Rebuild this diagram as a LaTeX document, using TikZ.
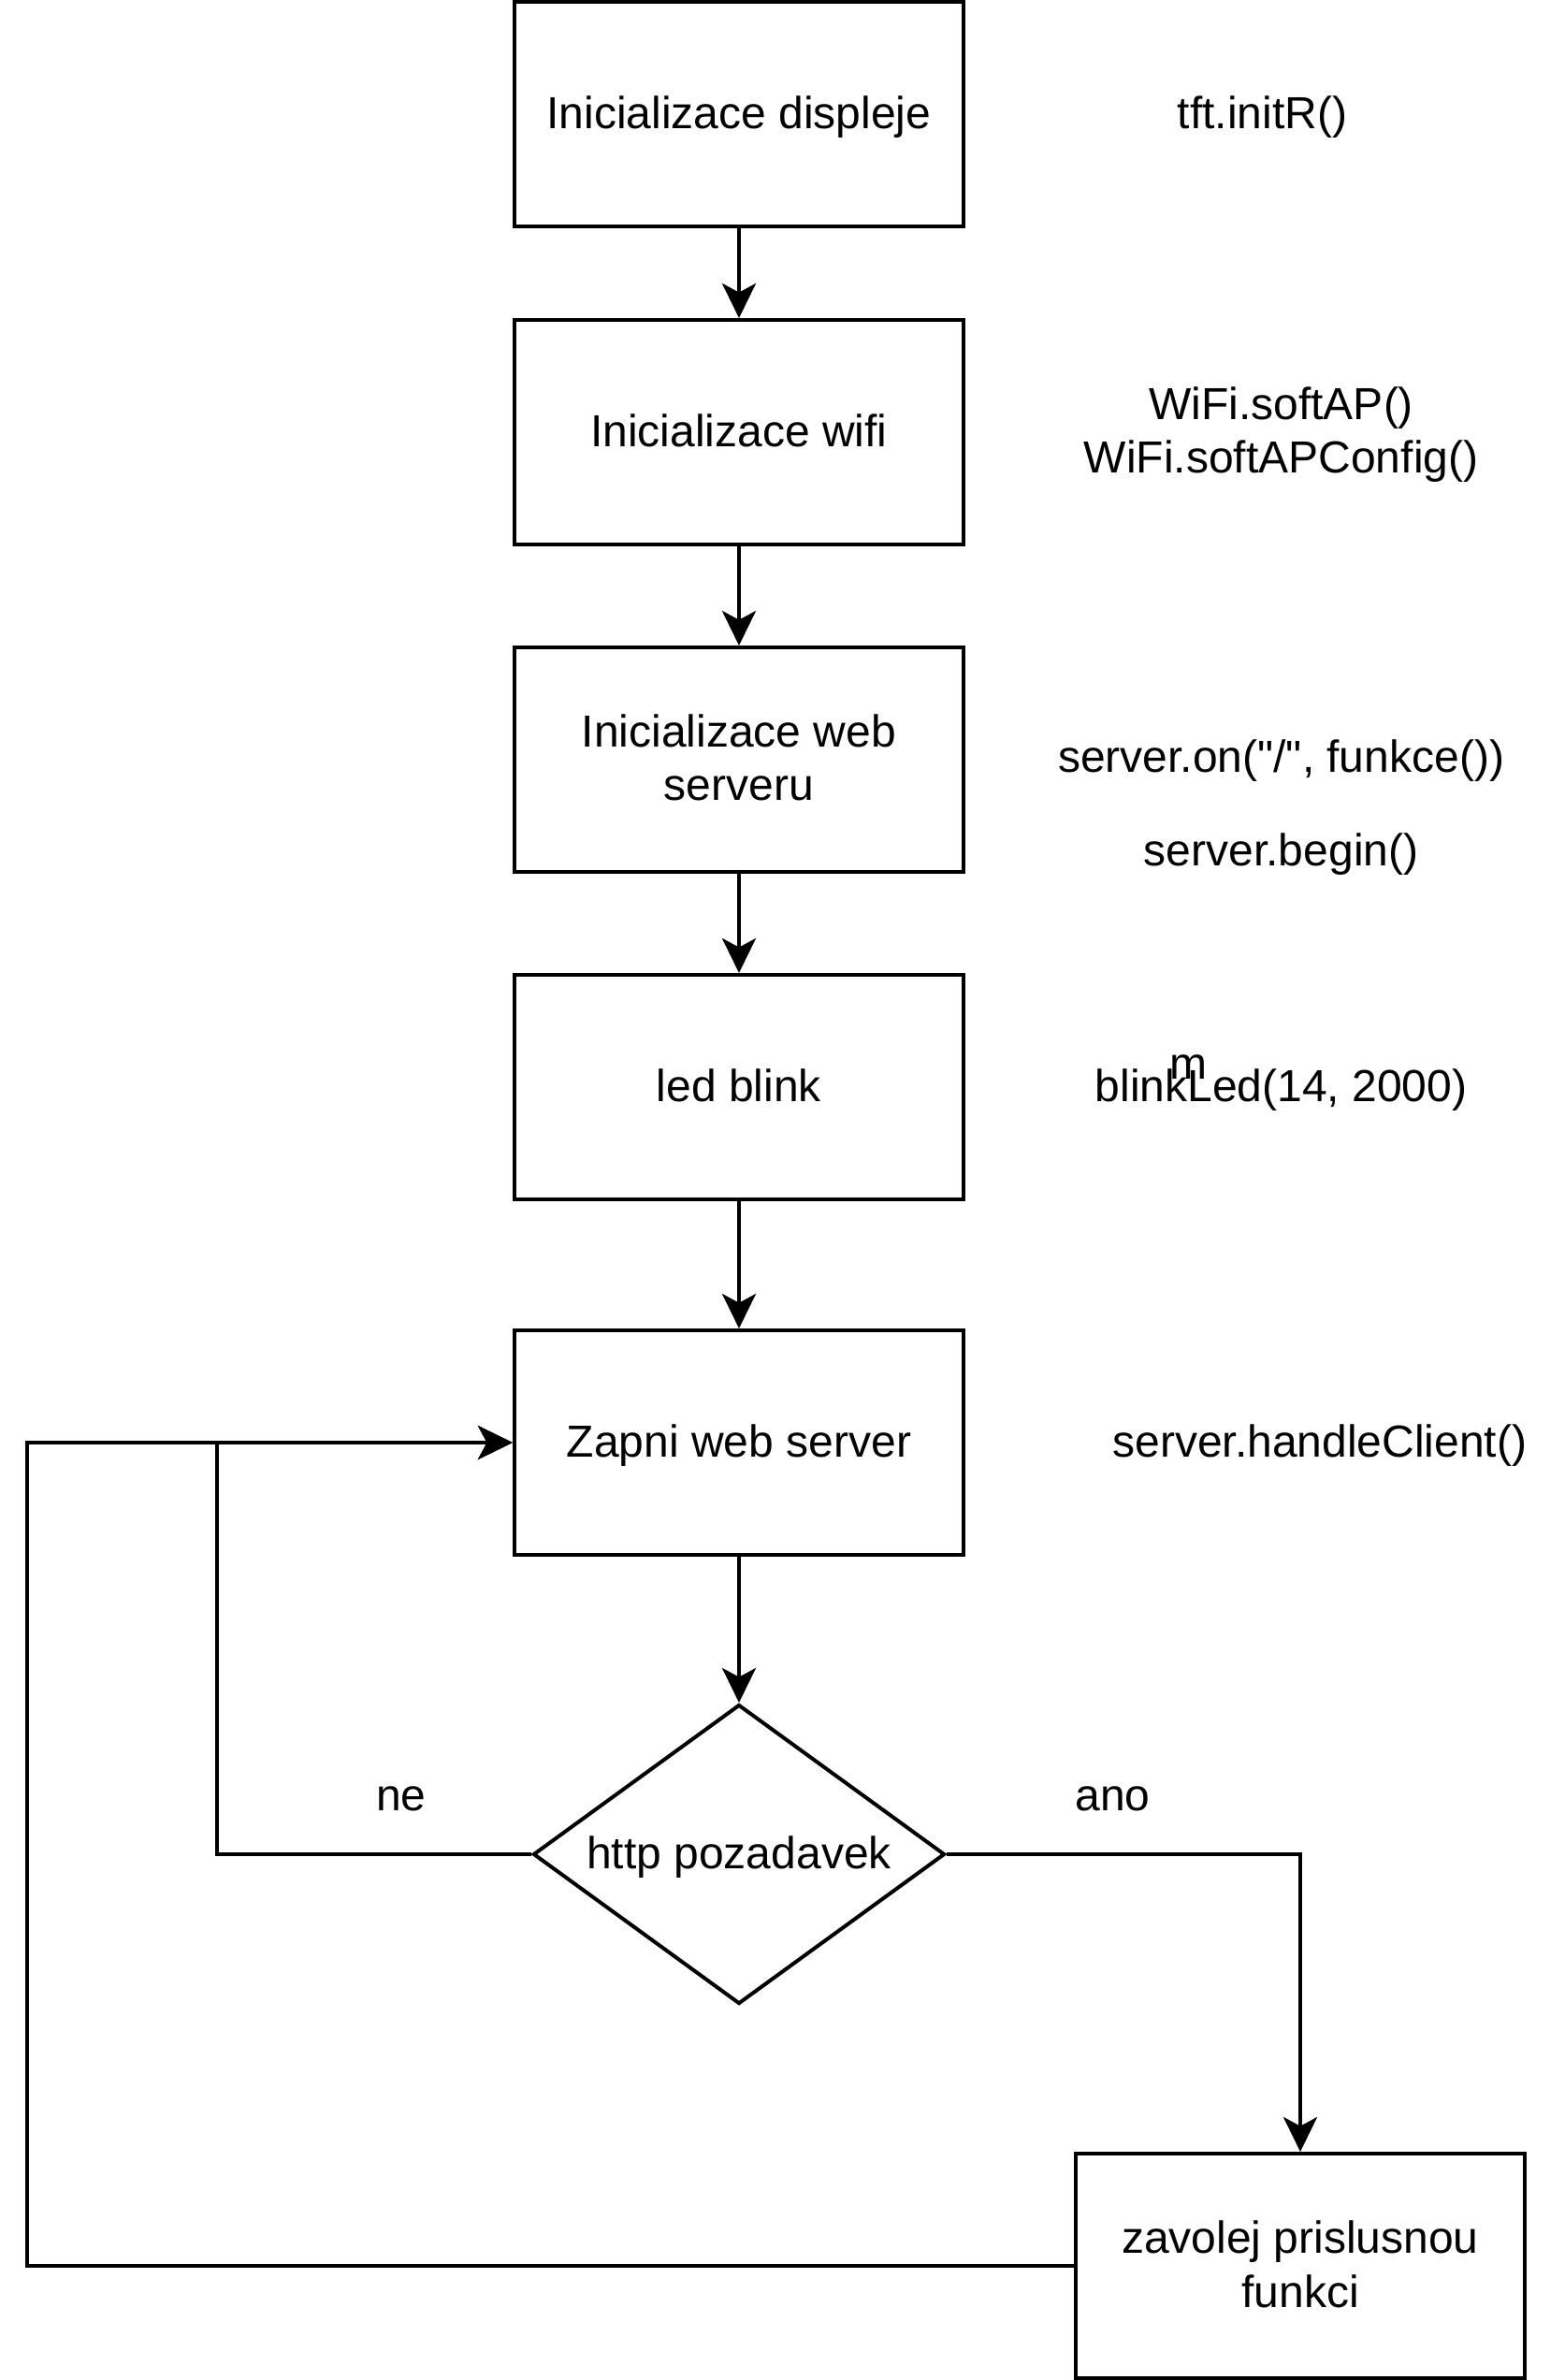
\documentclass[tikz,border=0pt]{standalone}
\usepackage{fontspec}
\setmainfont[Ligatures=TeXOff]{Liberation Sans}
\usetikzlibrary{arrows.meta,shapes.geometric}
\newcommand\ms{\rule[-2.9pt]{0pt}{13.4pt}}
\begin{document}
\begin{tikzpicture}[x=1pt,y=-1pt,
  every node/.style={font=\fontsize{12}{14.4}\selectfont,inner sep=0pt,align=center},
  box/.style={draw,line width=1pt,minimum width=120pt,minimum height=60pt},
  decision/.style={draw,line width=1pt,diamond,shape aspect=1.375,minimum width=110pt,minimum height=80pt},
  lbl/.style={},
  conn/.style={line width=1pt,-{Stealth[length=9.25pt,width=9pt,inset=2.4pt]}}]
\useasboundingbox (0,0) rectangle (418,636);
\node[box] (b1) at (197.5,30.5) {\ms Inicializace displeje};
\node[box] (b2) at (197.5,115.5) {\ms Inicializace wifi};
\node[box] (b3) at (197.5,203) {\ms Inicializace web\\\ms serveru};
\node[box] (b4) at (197.5,290.5) {\ms led blink};
\node[box] (b5) at (197.5,385.5) {\ms Zapni web server};
\node[decision] (d) at (197.5,495.5) {\ms http pozadavek};
\node[box] (b6) at (347.5,605.5) {\ms zavolej prislusnou\\\ms funkci};

\node[lbl] (t1) at (337.4,30.5) {\ms tft.initR()};
\node[lbl] (t2) at (342.4,115.5) {\ms WiFi.softAP()\\\ms WiFi.softAPConfig()};
\node[lbl] (t3) at (342.4,202.5) {\ms server.on("/", funkce())};
\node[lbl] (t4) at (342.4,227.5) {\ms server.begin()};
\node[lbl] (t5) at (342.4,290.5) {\ms blinkLed(14, 2000)};
\node[lbl] (t6) at (317.6,284.6) {\ms m};
\node[lbl] (t7) at (352.7,385.5) {\ms server.handleClient()};
\node[lbl] (ne) at (107.2,480) {\ms ne};
\node[lbl] (ano) at (297.4,480) {\ms ano};

\coordinate (cne) at (57.9,495.5);
\coordinate (clo) at (7.2,605.5);

\draw[conn] (b1) -- (b2);
\draw[conn] (b2) -- (b3);
\draw[conn] (b3) -- (b4);
\draw[conn] (b4) -- (b5);
\draw[conn] (b5) -- (d);
\draw[conn] (d.west) -- (cne) |- (b5.west);
\draw[conn] (b6.west) -- (clo) |- (b5.west);
\draw[conn] (d.east) -| (b6.north);
\end{tikzpicture}
\end{document}
